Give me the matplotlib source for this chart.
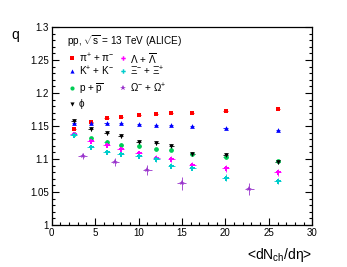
import matplotlib
matplotlib.use("Agg")
import matplotlib.pyplot as plt
from matplotlib.ticker import MultipleLocator, FixedLocator, FixedFormatter

plt.rcParams['font.family'] = ['Liberation Sans', 'DejaVu Sans']
plt.rcParams['mathtext.fontset'] = 'custom'
plt.rcParams['mathtext.rm'] = 'Liberation Sans'
plt.rcParams['mathtext.it'] = 'Liberation Sans:italic'

mult = [2.55, 4.50, 6.32, 7.95, 10.02, 12.04, 13.77, 16.17, 20.02, 26.02]
mult_omega = [3.56, 7.28, 11.0, 14.96, 22.74]

q_pi   = [1.145, 1.1565, 1.1616, 1.1641, 1.1662, 1.1682, 1.1690, 1.1702, 1.1722, 1.1753]
q_k    = [1.155, 1.154, 1.155, 1.154, 1.153, 1.152, 1.151, 1.150, 1.1475, 1.1439]
q_p    = [1.138, 1.1318, 1.1262, 1.1217, 1.119, 1.1147, 1.1136, 1.108, 1.1025, 1.097]
q_phi  = [1.158, 1.145, 1.139, 1.1353, 1.1258, 1.1237, 1.120, 1.1076, 1.1056, 1.096]
q_lam  = [1.138, 1.1268, 1.1212, 1.1152, 1.1086, 1.1015, 1.100, 1.0909, 1.0859, 1.0798]
q_xi   = [1.136, 1.1187, 1.111, 1.107, 1.105, 1.0995, 1.0899, 1.0869, 1.0717, 1.0667]
q_om   = [1.1045, 1.096, 1.0833, 1.0632, 1.055]

e_pi  = [0.001] * 10
e_k   = [0.001] * 10
e_p   = [0.002] * 10
e_phi = [0.003] * 10
e_lam = [0.003, 0.003, 0.003, 0.003, 0.003, 0.004, 0.004, 0.004, 0.005, 0.005]
e_xi  = [0.003, 0.003, 0.003, 0.003, 0.003, 0.004, 0.004, 0.004, 0.005, 0.005]
e_om  = [0.005, 0.006, 0.008, 0.010, 0.009]

series = [
    (r"π$^{+}$ + π$^{-}$", mult, q_pi, e_pi, 's', '#ff0000', 3.4, 0.25),
    (r"K$^{+}$ + K$^{-}$", mult, q_k, e_k, '^', '#0000ff', 3.4, 0.25),
    (r"p + $\overline{\mathrm{p}}$", mult, q_p, e_p, 'o', '#00cc55', 3.4, 0.25),
    (r"ϕ", mult, q_phi, e_phi, 'v', '#000000', 3.4, 0.3),
    (r"Λ + $\overline{\mathrm{Λ}}$", mult, q_lam, e_lam, 'P', '#ff00ff', 3.6, 0.4),
    (r"Ξ$^{-}$ + Ξ$^{+}$", mult, q_xi, e_xi, 'P', '#00cccc', 3.6, 0.4),
    (r"Ω$^{-}$ + Ω$^{+}$", mult_omega, q_om, e_om, '*', '#9933cc', 4.2, 0.5),
]

fig = plt.figure(figsize=(3.47, 2.67), dpi=100)
ax = fig.add_axes([0.149, 0.157, 0.751, 0.742])

for label, x, y, e, m, c, ms, xe in series:
    ax.errorbar(x, y, yerr=e, xerr=xe, fmt=m, color=c, ms=ms, mew=0,
                elinewidth=0.6, capsize=0)

ax.set_xlim(0, 30)
ax.set_ylim(1.0, 1.3)
ax.xaxis.set_major_locator(MultipleLocator(5))
ax.xaxis.set_minor_locator(MultipleLocator(1))
ax.yaxis.set_minor_locator(MultipleLocator(0.01))
yt = [1.0, 1.05, 1.1, 1.15, 1.2, 1.25, 1.3]
ax.yaxis.set_major_locator(FixedLocator(yt))
ax.yaxis.set_major_formatter(FixedFormatter(["1", "1.05", "1.1", "1.15", "1.2", "1.25", "1.3"]))
ax.tick_params(which='both', direction='in', right=True, top=False, labelsize=7, width=0.8)
ax.tick_params(which='major', length=5)
ax.tick_params(which='minor', length=2.5)
ax.tick_params(axis='x', pad=2)
ax.tick_params(axis='y', pad=2)
for sp in ax.spines.values():
    sp.set_linewidth(0.9)

fig.text(0.045, 0.87, "q", fontsize=10, ha='center', va='center')
fig.text(0.90, 0.045, r"<dN$_{\mathrm{ch}}$/dη>", fontsize=10, ha='right', va='center')

ax.text(1.8, 1.2777, r"pp, $\sqrt{\mathrm{s}}$ = 13 TeV (ALICE)", fontsize=7.2, ha='left', va='center')

col_x = [(2.3, 3.1), (8.2, 9.0)]
row_y = [1.2526, 1.2333, 1.2071, 1.1833]
legend_pos = [(0, 0), (0, 1), (0, 2), (0, 3), (1, 0), (1, 1), (1, 2)]
for (label, x, y, e, m, c, ms, xe), (ci, ri) in zip(series, legend_pos):
    mx, tx = col_x[ci]
    ax.plot([mx], [row_y[ri]], marker=m, color=c, ms=ms - 0.4, mew=0, ls='none')
    ax.text(tx, row_y[ri], label, fontsize=7.2, ha='left', va='center')

fig.savefig("out.png", dpi=100)
